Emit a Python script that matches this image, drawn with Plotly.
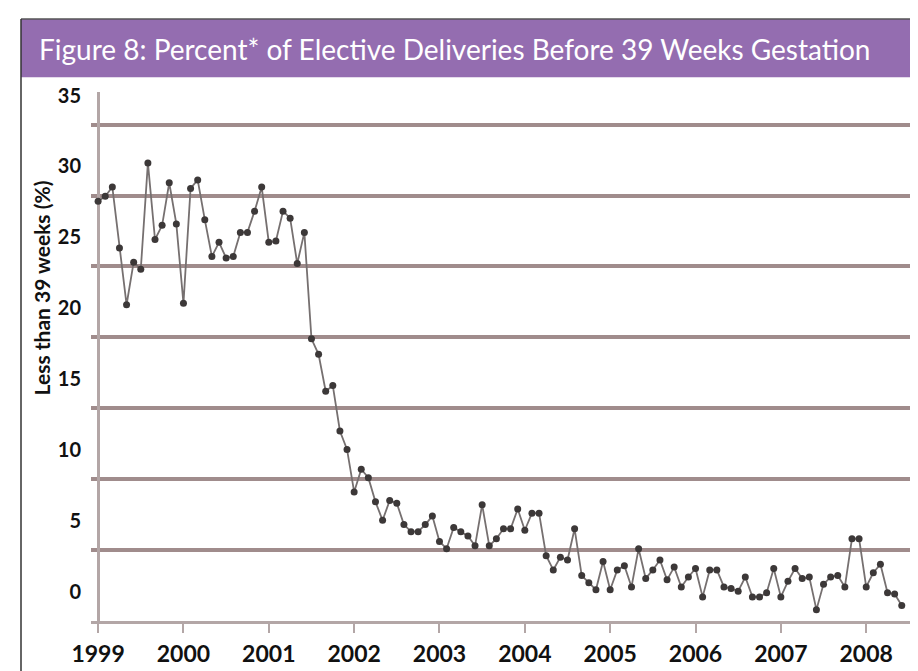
import plotly.graph_objects as go

# ---- data (monthly Jan 1999 - Jun 2008) ----
title_text = "Figure 8: Percent* of Elective Deliveries Before 39 Weeks Gestation"
y_title = "Less than 39 weeks (%)"
years = ["1999", "2000", "2001", "2002", "2003", "2004", "2005", "2006", "2007", "2008"]
y_labels = ["0", "5", "10", "15", "20", "25", "30", "35"]
grid_values = [0, 5, 10, 15, 20, 25, 30, 35]
label_offset = 2.05  # labels in the original are printed shifted above their gridlines

pct_values = [
    29.6, 29.95, 30.6, 26.3, 22.3, 25.3, 24.8, 32.3, 26.9, 27.9, 30.9, 28.0,
    22.4, 30.5, 31.1, 28.3, 25.7, 26.7, 25.6, 25.7, 27.4, 27.4, 28.9, 30.6,
    26.7, 26.8, 28.9, 28.4, 25.2, 27.4, 19.9, 18.8, 16.2, 16.6, 13.4, 12.1,
    9.1, 10.7, 10.1, 8.4, 7.1, 8.5, 8.3, 6.8, 6.3, 6.3, 6.8, 7.4,
    5.6, 5.1, 6.6, 6.3, 6.0, 5.3, 8.2, 5.3, 5.8, 6.5, 6.5, 7.9,
    6.4, 7.6, 7.6, 4.6, 3.6, 4.5, 4.3, 6.5, 3.2, 2.7, 2.2, 4.2,
    2.2, 3.6, 3.9, 2.4, 5.1, 3.0, 3.6, 4.3, 2.9, 3.8, 2.4, 3.1,
    3.7, 1.7, 3.6, 3.6, 2.4, 2.3, 2.1, 3.1, 1.7, 1.7, 2.0, 3.7,
    1.7, 2.8, 3.7, 3.0, 3.1, 0.8, 2.6, 3.1, 3.2, 2.4, 5.8, 5.8,
    2.4, 3.4, 4.0, 2.0, 1.9, 1.1,
]
month_index = list(range(len(pct_values)))
year_ticks = [12 * i for i in range(len(years))]

# ---- layout constants (pixels) ----
W, H = 918, 671
L, R, T, B = 83, 15, 84, 51
PW, PH = W - L - R, H - T - B
Y_MAX = 37.3
X_MIN, X_MAX = -1, 114.3


def px_to_paper_x(px):
    return (px - L) / PW


def px_to_paper_y(py):
    return (H - B - py) / PH


GRID = "#a08c8c"
AXIS = "#b3a6a6"

fig = go.Figure()
fig.add_trace(go.Scatter(
    x=month_index, y=pct_values, mode="lines+markers",
    line=dict(color="#767070", width=1.8),
    marker=dict(color="#3c3838", size=7),
    showlegend=False, hoverinfo="skip",
))

fig.update_layout(
    width=W, height=H,
    margin=dict(l=L, r=R, t=T, b=B, pad=0),
    paper_bgcolor="white", plot_bgcolor="white",
    xaxis=dict(
        range=[X_MIN, X_MAX], tickvals=year_ticks, ticktext=years,
        showgrid=False, zeroline=True, zerolinecolor=AXIS, zerolinewidth=3,
        showline=True, linecolor=AXIS, linewidth=3,
        ticks="outside", ticklen=9, tickwidth=2, tickcolor=AXIS,
        ticklabelstandoff=1,
        tickfont=dict(family="Lato", size=23, color="#111", weight="bold"),
    ),
    yaxis=dict(
        range=[0, Y_MAX],
        tickvals=[v + label_offset for v in grid_values], ticktext=y_labels,
        showgrid=False, zeroline=False, showline=False, ticks="",
        ticklabelstandoff=9,
        tickfont=dict(family="Lato", size=20, color="#111", weight="bold"),
        minor=dict(tickvals=grid_values, showgrid=True, gridcolor=GRID,
                   gridwidth=3.5, ticks=""),
    ),
)

# title band, frame and texts
fig.add_shape(type="rect", xref="paper", yref="paper",
              x0=px_to_paper_x(13), x1=px_to_paper_x(W + 2),
              y0=px_to_paper_y(69), y1=px_to_paper_y(10),
              fillcolor="#946db0", line=dict(width=0), layer="above")
fig.add_shape(type="line", xref="paper", yref="paper",
              x0=px_to_paper_x(13), x1=px_to_paper_x(W + 2),
              y0=px_to_paper_y(10), y1=px_to_paper_y(10),
              line=dict(color="#555", width=1.5), layer="above")
fig.add_shape(type="line", xref="paper", yref="paper",
              x0=px_to_paper_x(13), x1=px_to_paper_x(13),
              y0=px_to_paper_y(10), y1=px_to_paper_y(H + 2),
              line=dict(color="#333", width=1.5), layer="above")

fig.add_annotation(text=title_text, xref="paper", yref="paper",
                   x=px_to_paper_x(29), y=px_to_paper_y(40),
                   xanchor="left", yanchor="middle", showarrow=False,
                   font=dict(family="Lato", size=28, color="white"))
fig.add_annotation(text=y_title, xref="paper", yref="paper",
                   x=px_to_paper_x(33), y=px_to_paper_y(283),
                   xanchor="center", yanchor="middle", showarrow=False,
                   textangle=-90,
                   font=dict(family="Lato", size=21, color="#111", weight="bold"))

fig.write_html("out.html")
